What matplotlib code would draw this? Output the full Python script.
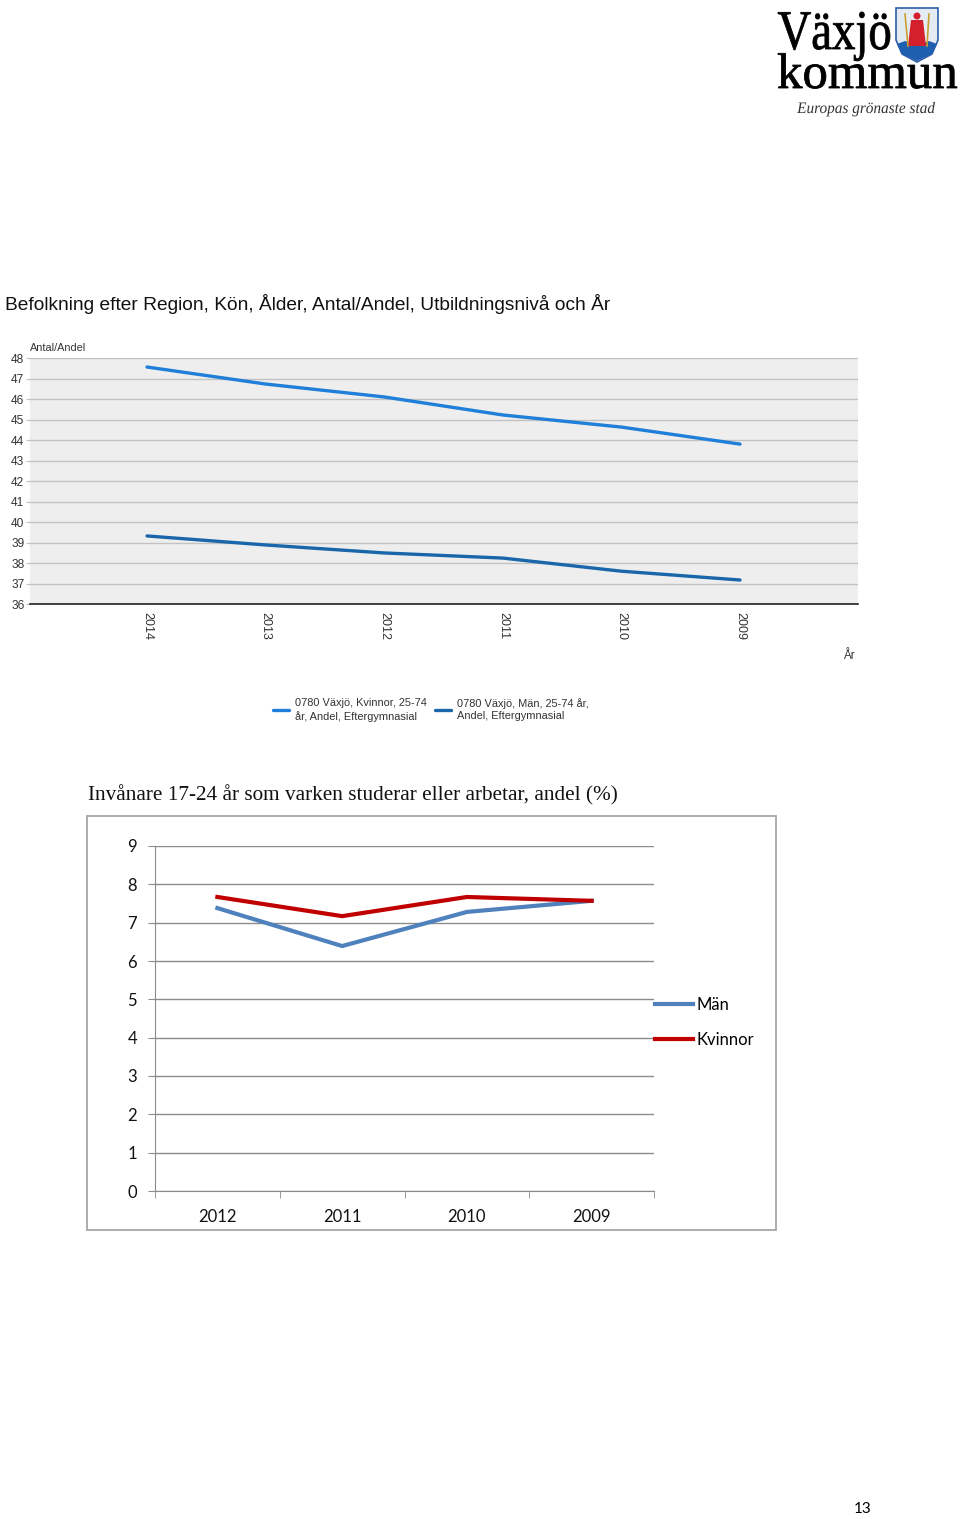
import numpy as np
import matplotlib
matplotlib.use("Agg")
import matplotlib.pyplot as plt
from matplotlib.patches import Rectangle, PathPatch, Polygon, Circle
from matplotlib.textpath import TextPath
from matplotlib.font_manager import FontProperties
from matplotlib.transforms import Affine2D

# top chart data (utbildningsnivå, andel %)
years_top = ["2014", "2013", "2012", "2011", "2010", "2009"]
kvinnor_top = [47.56, 46.73, 46.10, 45.22, 44.63, 43.80]
man_top = [39.32, 38.88, 38.49, 38.24, 37.60, 37.17]
labels_top = ["0780 Växjö, Kvinnor, 25-74\når, Andel, Eftergymnasial",
              "0780 Växjö, Män, 25-74 år,\nAndel, Eftergymnasial"]

# bottom chart data (17-24 år, varken studerar eller arbetar)
years_bot = ["2012", "2011", "2010", "2009"]
man_bot = [7.38, 6.39, 7.28, 7.57]
kvinnor_bot = [7.67, 7.17, 7.67, 7.57]

W, H = 960, 1519
fig = plt.figure(figsize=(W / 100, H / 100), dpi=100)

def fx(px):
    return px / W

def fy(py):
    return 1 - py / H

# overlay axes in pixel coordinates, used for the logo
ax0 = fig.add_axes([0, 0, 1, 1], zorder=-1)
ax0.set_xlim(0, W)
ax0.set_ylim(H, 0)
ax0.axis("off")


def fit_text(s, x0, x1, baseline, size, prop, color="black"):
    tp = TextPath((0, 0), s, size=1, prop=prop)
    bb = tp.get_extents()
    sx = (x1 - x0) / bb.width
    tr = Affine2D().translate(-bb.x0, 0).scale(sx, -size).translate(x0, baseline)
    ax0.add_patch(PathPatch(tr.transform_path(tp), fc=color, ec="black" if color == "black" else "none",
                            lw=0.6))


serif = FontProperties(family="Liberation Serif")
serif_it = FontProperties(family="Liberation Serif", style="italic")
fit_text("Växjö", 778, 890, 49, 56, serif)
fit_text("kommun", 778, 957, 88, 50, serif)
fit_text("Europas grönaste stad", 797, 935, 113, 16, serif_it, color="#333333")

# shield
shield = Polygon([(896, 8), (938, 8), (938, 40), (932, 54), (917, 62), (902, 54), (896, 40)],
                 closed=True, fc="#e4ebf3", ec="#2d5ea8", lw=1.2)
ax0.add_patch(shield)
ax0.add_patch(Polygon([(897, 44), (905, 41), (917, 45), (929, 41), (937, 44), (932, 54),
                       (917, 61), (902, 54)], closed=True, fc="#1f5fb0", ec="none"))
ax0.add_patch(Polygon([(911, 20), (923, 20), (926, 46), (908, 46)], closed=True, fc="#d4202c", ec="none"))
ax0.add_patch(Circle((917, 16), 3.5, fc="#d4202c", ec="none"))
ax0.plot([905, 908], [14, 46], color="#c8a030", lw=1.2)
ax0.plot([929, 927], [14, 46], color="#c8a030", lw=1.2)

# ---------------- top chart ----------------
fig.text(fx(5), fy(304), "Befolkning efter Region, Kön, Ålder, Antal/Andel, Utbildningsnivå och År",
         fontsize=13.8, family="Liberation Sans", va="center", ha="left", color="#111111")

ax1 = fig.add_axes([fx(30), fy(604), fx(858) - fx(30), (604 - 358) / H])
ax1.set_facecolor("#eeeeee")
x_top = np.arange(len(years_top))
l1, = ax1.plot(x_top, kvinnor_top, color="#1f7fd9", lw=2.4, solid_capstyle="round")
l2, = ax1.plot(x_top, man_top, color="#1a66aa", lw=2.4, solid_capstyle="round")
ax1.set_xlim(-0.987, 5.995)
ax1.set_ylim(36, 48)
ax1.set_yticks(np.arange(36, 49, 1))
ax1.yaxis.grid(True, color="#c2c2c2", lw=1)
ax1.set_axisbelow(True)
for side in ["top", "right", "left"]:
    ax1.spines[side].set_visible(False)
ax1.spines["bottom"].set_color("#222222")
ax1.spines["bottom"].set_linewidth(1.2)
ax1.set_xticks(x_top)
ax1.set_xticklabels(years_top, rotation=-90, fontsize=9, family="Liberation Sans", color="#333333")
ax1.tick_params(axis="x", length=0, pad=6)
ax1.tick_params(axis="y", length=3, color="#c2c2c2", pad=1, labelsize=8.6, labelcolor="#333333")
for t in ax1.get_yticklabels():
    t.set_family("Liberation Sans")
ax1.text(0, 1.02, "Antal/Andel", transform=ax1.transAxes, fontsize=7.8,
         family="Liberation Sans", color="#333333", va="bottom", ha="left")
fig.text(fx(849), fy(656), "År", fontsize=8.5, family="Liberation Sans", color="#333333",
         ha="center", va="center")
leg1 = fig.legend([l1, l2], labels_top, loc="center", bbox_to_anchor=(fx(431), fy(710)),
                  ncol=2, frameon=False, handlelength=1.5, handletextpad=0.55,
                  columnspacing=0.7, prop={"family": "Liberation Sans", "size": 7.9})
for t in leg1.get_texts():
    t.set_color("#333333")
    t.set_linespacing(1.25)

# ---------------- bottom chart ----------------
fig.text(fx(88), fy(795), "Invånare 17-24 år som varken studerar eller arbetar, andel (%)",
         fontsize=15.3, family="Liberation Serif", va="center", ha="left", color="#111111")
fig.patches.append(Rectangle((fx(87), fy(1230)), fx(776) - fx(87), (1230 - 816) / H,
                             transform=fig.transFigure, fill=False, ec="#a6a6a6", lw=1.3))

ax2 = fig.add_axes([fx(155), fy(1191), fx(654) - fx(155), (1191 - 846) / H])
x_bot = np.arange(len(years_bot))
ax2.plot(x_bot, man_bot, color="#4f81bd", lw=3, label="Män")
ax2.plot(x_bot, kvinnor_bot, color="#c00000", lw=3, label="Kvinnor")
ax2.set_xlim(-0.5, len(years_bot) - 0.5)
ax2.set_ylim(0, 9)
ax2.set_yticks(np.arange(0, 10, 1))
ax2.yaxis.grid(True, color="#8c8c8c", lw=1)
ax2.set_axisbelow(True)
for side in ["top", "right"]:
    ax2.spines[side].set_visible(False)
for side in ["left", "bottom"]:
    ax2.spines[side].set_color("#8c8c8c")
ax2.set_xticks(x_bot)
ax2.set_xticklabels(years_bot)
ax2.set_xticks(np.arange(-0.5, len(years_bot)), minor=True)
ax2.tick_params(axis="x", which="major", length=0, pad=13)
ax2.tick_params(axis="x", which="minor", length=5, color="#8c8c8c")
ax2.tick_params(axis="y", length=5, color="#8c8c8c", pad=8)
for t in ax2.get_xticklabels() + ax2.get_yticklabels():
    t.set_family("Lato")
    t.set_fontsize(12)
    t.set_color("#111111")
leg2 = ax2.legend(loc="upper left", bbox_to_anchor=(fx(655), fy(997)), bbox_transform=fig.transFigure,
                  frameon=False, borderpad=0, borderaxespad=0, handlelength=2.3, handletextpad=0.2,
                  labelspacing=1.15, prop={"family": "Lato", "size": 12})

fig.text(fx(863), fy(1509), "13", fontsize=11, family="Lato", ha="center", va="center")

fig.savefig("out.png", dpi=100)
